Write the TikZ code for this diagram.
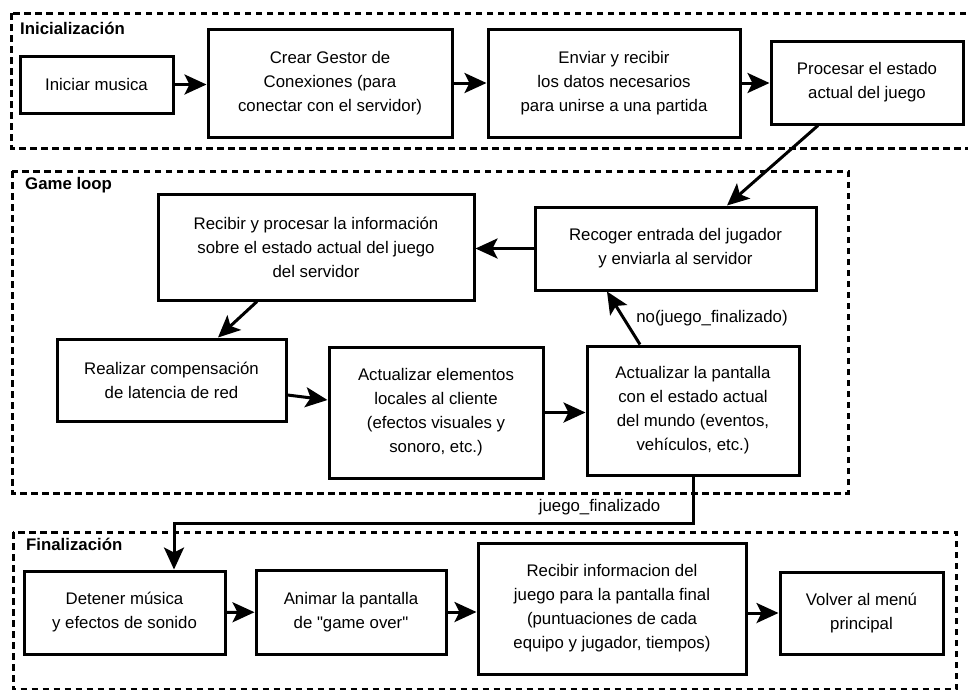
\documentclass[tikz,border=0pt]{standalone}
\usepackage{fontspec}
\setmainfont{Liberation Sans}
\usetikzlibrary{arrows.meta}

\begin{document}
\begin{tikzpicture}[
    x=1pt, y=-1pt,
    box/.style={rectangle, draw, line width=3pt, align=center, inner sep=0pt, font=\fontsize{16.8}{24}\selectfont},
    group/.style={draw, line width=3pt, dash pattern=on 6.5pt off 4.5pt},
    grouptitle/.style={anchor=base west, inner sep=0pt, font=\bfseries\fontsize{16.8}{24}\selectfont},
    arrow/.style={line width=3pt, -{Stealth[length=22pt, width=20pt, inset=5pt]}},
    edgelabel/.style={font=\fontsize{16.8}{24}\selectfont}
]
\useasboundingbox (0,0) rectangle (968,689);

% Groups
\draw [group] (11,13) rectangle (975,148);
\draw [group] (12,171) rectangle (848,493);
\draw [group] (13,532) rectangle (956,689.5);
\node (tinit) [grouptitle] at (20,34) {Inicialización};
\node (tloop) [grouptitle] at (25,189) {Game loop};
\node (tfin) [grouptitle] at (26,550) {Finalización};

% Nodes
\node (iniciar) [box, minimum width=153pt, minimum height=57pt] at (96.5,84.5) {Iniciar musica};
\node (gestor) [box, minimum width=244pt, minimum height=108pt] at (330,83) {Crear Gestor de\\Conexiones (para\\conectar con el servidor)};
\node (enviar) [box, minimum width=252pt, minimum height=108pt] at (614,83) {Enviar y recibir\\los datos necesarios\\para unirse a una partida};
\node (procesar) [box, minimum width=192pt, minimum height=83pt] at (867,82.5) {Procesar el estado\\actual del juego};

\node (recibir) [box, minimum width=316pt, minimum height=106pt] at (316,247) {Recibir y procesar la información\\sobre el estado actual del juego\\del servidor};
\node (recoger) [box, minimum width=281pt, minimum height=83pt] at (675.5,248.5) {Recoger entrada del jugador\\y enviarla al servidor};
\node (realizar) [box, minimum width=229pt, minimum height=82pt] at (171.5,380) {Realizar compensación\\de latencia de red};
\node (actelem) [box, minimum width=214pt, minimum height=131pt] at (436,412.5) {Actualizar elementos\\locales al cliente\\(efectos visuales y\\sonoro, etc.)};
\node (actpant) [box, minimum width=212pt, minimum height=129pt] at (693,410.5) {Actualizar la pantalla\\con el estado actual\\del mundo (eventos,\\vehículos, etc.)};

\node (detener) [box, minimum width=201pt, minimum height=83pt] at (124.5,612.5) {Detener música\\y efectos de sonido};
\node (animar) [box, minimum width=190pt, minimum height=84pt] at (351,612) {Animar la pantalla\\de \textquotedbl game over\textquotedbl};
\node (recibirfin) [box, minimum width=268pt, minimum height=131pt] at (612,608.5) {Recibir informacion del\\juego para la pantalla final\\(puntuaciones de cada\\equipo y jugador, tiempos)};
\node (volver) [box, minimum width=163pt, minimum height=82pt] at (861.5,613) {Volver al menú\\principal};

% Arrows
\draw [arrow] (iniciar) -- (iniciar -| gestor.west);
\draw [arrow] (gestor) -- (enviar);
\draw [arrow] (enviar) -- (enviar -| procesar.west);
\draw [arrow] ([xshift=-49pt]procesar.south) -- ([xshift=51.5pt]recoger.north);
\draw [arrow] (recoger.west) -- (recoger.west -| recibir.east);
\draw [arrow] ([xshift=-59pt]recibir.south) -- ([xshift=46.5pt]realizar.north);
\draw [arrow] ([yshift=-15pt]realizar.east) -- ([yshift=12.5pt]actelem.west);
\draw [arrow] (actelem.east) -- (actelem.east -| actpant.west);
\draw [arrow] ([xshift=-53pt]actpant.north) -- node[edgelabel, right, xshift=8pt] {no(juego\_finalizado)} ([xshift=-68.5pt]recoger.south);
\draw [arrow] (actpant.south) -- ++(0,47) -| node[edgelabel, pos=0.09, above, yshift=4pt] {juego\_finalizado} ([xshift=49.5pt]detener.north);
\draw [arrow] (detener) -- (animar);
\draw [arrow] (animar.east) -- (animar.east -| recibirfin.west);
\draw [arrow] (recibirfin.east |- volver) -- (volver);

\end{tikzpicture}
\end{document}
